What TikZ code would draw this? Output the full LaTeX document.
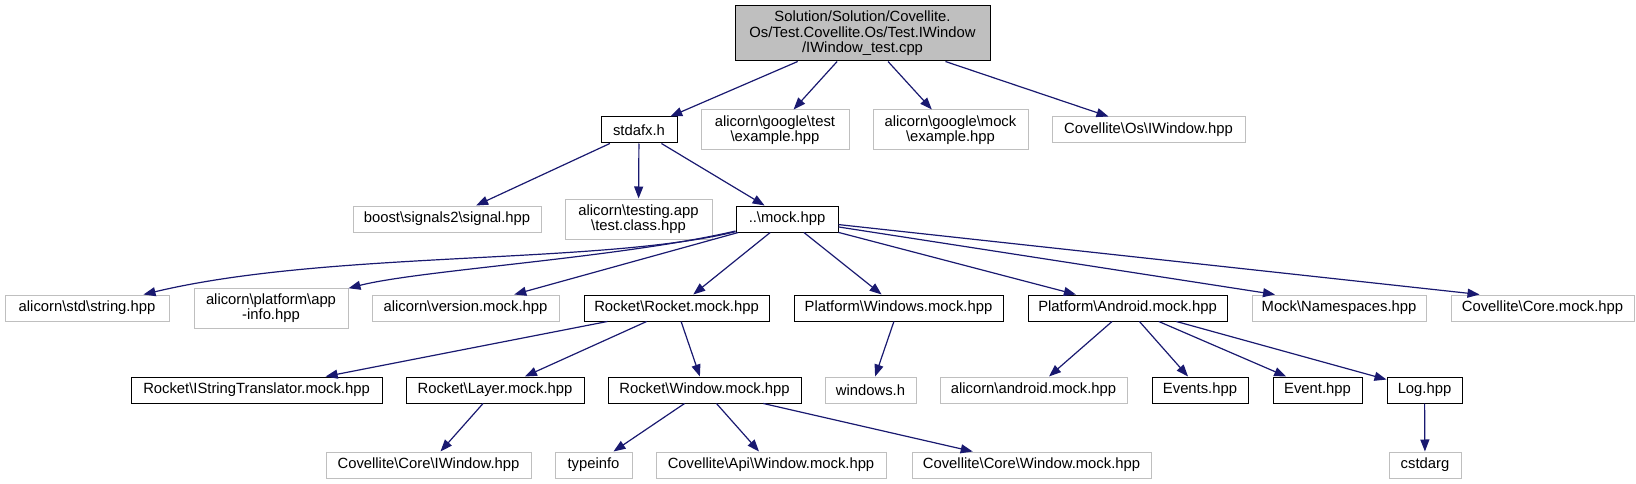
\documentclass[tikz,border=0pt]{standalone}
\usepackage{fontspec}
\setmainfont{Liberation Sans}
\usepackage{xcolor}
\usepackage{tikz}
\usetikzlibrary{arrows.meta}
\definecolor{edgeblue}{RGB}{25,25,112}
\definecolor{leafgray}{RGB}{191,191,191}
\newcommand{\bsl}{\textbackslash}

\begin{document}
\begin{tikzpicture}[x=1pt, y=-1pt, font={\fontsize{14.8pt}{15.5pt}\selectfont},
    file/.style={draw=black, line width=1pt, inner sep=0pt, minimum height=26pt, align=center},
    extfile/.style={file, draw=leafgray},
    rootfile/.style={file, fill=leafgray, minimum height=55pt},
    edge/.style={draw=edgeblue, line width=1.2pt, -{Triangle[length=12pt, width=9pt]}}]
  \useasboundingbox (0,0) rectangle (1636,484);

  % rank 0 and 1
  \node[rootfile, minimum width=255pt] (root) at (862.5,33.5)
    {Solution/Solution/Covellite.\\Os/Test.Covellite.Os/Test.IWindow\\/IWindow\_test.cpp};
  \node[file, minimum width=76pt] (stdafx) at (639,130) {stdafx.h};
  \node[extfile, minimum width=148pt, minimum height=40pt] (gtest) at (775,130) {alicorn\bsl google\bsl test\\\bsl example.hpp};
  \node[extfile, minimum width=155pt, minimum height=40pt] (gmock) at (950.5,130) {alicorn\bsl google\bsl mock\\\bsl example.hpp};
  \node[extfile, minimum width=193pt] (osiwin) at (1148.5,130) {Covellite\bsl Os\bsl IWindow.hpp};

  % rank 2
  \node[extfile, minimum width=188pt] (boost) at (447,219) {boost\bsl signals2\bsl signal.hpp};
  \node[extfile, minimum width=147pt, minimum height=40pt] (testapp) at (638.5,219) {alicorn\bsl testing.app\\\bsl test.class.hpp};
  \node[file, minimum width=102pt] (mock) at (787,219) {..\bsl mock.hpp};

  % rank 3
  \node[extfile, minimum width=164pt] (string) at (87,308) {alicorn\bsl std\bsl string.hpp};
  \node[extfile, minimum width=154pt, minimum height=40pt] (appinfo) at (271,308) {alicorn\bsl platform\bsl app\\-info.hpp};
  \node[extfile, minimum width=187pt] (version) at (465.5,308) {alicorn\bsl version.mock.hpp};
  \node[file, minimum width=185pt] (rocket) at (676.5,308) {Rocket\bsl Rocket.mock.hpp};
  \node[file, minimum width=209pt] (platwin) at (898.5,308) {Platform\bsl Windows.mock.hpp};
  \node[file, minimum width=199pt] (android) at (1127.5,308) {Platform\bsl Android.mock.hpp};
  \node[extfile, minimum width=174pt] (namesp) at (1339,308) {Mock\bsl Namespaces.hpp};
  \node[extfile, minimum width=183pt] (coremock) at (1542.5,308) {Covellite\bsl Core.mock.hpp};

  % rank 4
  \node[file, minimum width=251pt] (istr) at (256.5,390) {Rocket\bsl IStringTranslator.mock.hpp};
  \node[file, minimum width=178pt] (layer) at (495,390) {Rocket\bsl Layer.mock.hpp};
  \node[file, minimum width=193pt] (rwin) at (704.5,390) {Rocket\bsl Window.mock.hpp};
  \node[extfile, minimum width=91pt] (winh) at (870.5,390) {windows.h};
  \node[extfile, minimum width=187pt] (andmock) at (1033.5,390) {alicorn\bsl android.mock.hpp};
  \node[file, minimum width=96pt] (events) at (1200,390) {Events.hpp};
  \node[file, minimum width=89pt] (event) at (1317.5,390) {Event.hpp};
  \node[file, minimum width=75pt] (log) at (1424.5,390) {Log.hpp};

  % rank 5
  \node[extfile, minimum width=205pt] (coreiwin) at (428.5,465) {Covellite\bsl Core\bsl IWindow.hpp};
  \node[extfile, minimum width=77pt] (typeinfo) at (593.5,465) {typeinfo};
  \node[extfile, minimum width=230pt] (apiwin) at (771,465) {Covellite\bsl Api\bsl Window.mock.hpp};
  \node[extfile, minimum width=239pt] (corewin) at (1031.5,465) {Covellite\bsl Core\bsl Window.mock.hpp};
  \node[extfile, minimum width=72pt] (cstdarg) at (1425,465) {cstdarg};

  % includes
  \foreach \to in {stdafx, gtest, gmock, osiwin}
    \draw[edge] (root) -- (\to);
  \foreach \to in {boost, testapp, mock}
    \draw[edge] (stdafx) -- (\to);
  \draw[edge] (mock) .. controls (600,265) and (330,250) .. (string);
  \draw[edge] (mock) .. controls (620,258) and (420,270) .. (appinfo);
  \foreach \to in {version, rocket, platwin, android}
    \draw[edge] (mock) -- (\to);
  \draw[edge] (mock) -- ([xshift=-64pt]namesp.north);
  \draw[edge] (mock) -- ([xshift=-63pt]coremock.north);
  \foreach \to in {istr, layer, rwin}
    \draw[edge] (rocket) -- (\to);
  \draw[edge] (platwin) -- (winh);
  \foreach \to in {andmock, events, event, log}
    \draw[edge] (android) -- (\to);
  \draw[edge] (layer) -- (coreiwin);
  \foreach \to in {typeinfo, apiwin, corewin}
    \draw[edge] (rwin) -- (\to);
  \draw[edge] (log) -- (cstdarg);
\end{tikzpicture}
\end{document}
